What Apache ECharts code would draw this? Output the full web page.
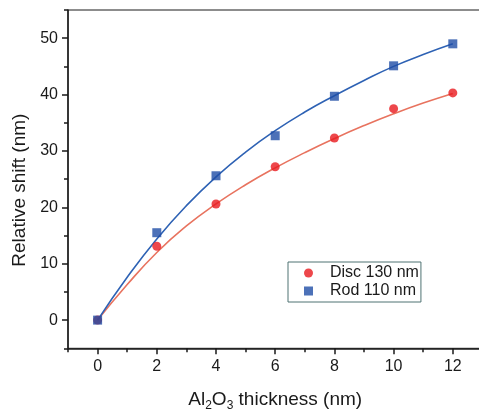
<!DOCTYPE html>
<html>
<head>
<meta charset="utf-8">
<script src="https://cdn.jsdelivr.net/npm/echarts@6/dist/echarts.min.js"></script>
<style>
  html, body { margin: 0; padding: 0; background: #fff; }
  #main { width: 479px; height: 409px; }
</style>
</head>
<body>
<div id="main"></div>
<script>
// measured points
var thickness = [0, 2, 4, 6, 8, 10, 12]
var discShift = [0, 13.1, 20.6, 27.2, 32.3, 37.5, 40.3]
var rodShift = [0, 15.5, 25.6, 32.7, 39.7, 45.1, 49.0]

// fitted curves at each nm
var fitX = [0, 1, 2, 3, 4, 5, 6, 7, 8, 9, 10, 11, 12]
var discFit = [0, 6.3, 12.0, 16.7, 20.6, 24.0, 27.0, 29.7, 32.2, 34.5, 36.6, 38.5, 40.2]
var rodFit = [0, 7.6, 14.4, 20.3, 25.4, 29.8, 33.6, 36.9, 39.8, 42.5, 45.0, 47.1, 49.0]

var xMajor = [0, 2, 4, 6, 8, 10, 12]
var xMinor = [-1, 1, 3, 5, 7, 9, 11, 13]
var yMajor = [0, 10, 20, 30, 40, 50]
var yMinor = [-5, 5, 15, 25, 35, 45, 55]

function pairs (xs, ys) {
  return xs.map(function (x, i) { return [x, ys[i]] })
}

var font = 'Liberation Sans, Arial, sans-serif'
var axisColor = '#1a1a1a'
var tickStyle = { color: axisColor, width: 1.5 }

// one axis for line + labels, one for long ticks, one for short ticks
function xAxes () {
  return [{
    type: 'value', min: -1, max: 13, interval: 1,
    name: 'Al{s|2}O{s|3} thickness (nm)',
    nameLocation: 'middle', nameGap: 40,
    nameTextStyle: {
      fontFamily: font, fontSize: 19, color: '#1a1a1a',
      rich: { s: { fontFamily: font, fontSize: 12, color: '#1a1a1a', padding: [11, 0, 0, 0] } }
    },
    axisLine: { onZero: false, lineStyle: tickStyle },
    axisTick: { show: false },
    axisLabel: {
      margin: 10, fontFamily: font, fontSize: 16, color: '#1a1a1a',
      formatter: function (v) { return xMajor.indexOf(v) >= 0 ? String(v) : '' }
    },
    splitLine: { show: false }
  }, {
    type: 'value', min: -1, max: 13, interval: 1, position: 'bottom',
    axisLine: { show: false, onZero: false },
    axisTick: { show: true, customValues: xMajor, length: 6, lineStyle: tickStyle },
    axisLabel: { show: false },
    splitLine: { show: false }
  }, {
    type: 'value', min: -1, max: 13, interval: 1, position: 'bottom',
    axisLine: { show: false, onZero: false },
    axisTick: { show: true, customValues: xMinor, length: 4, lineStyle: tickStyle },
    axisLabel: { show: false },
    splitLine: { show: false }
  }]
}

function yAxes () {
  return [{
    type: 'value', min: -5, max: 55, interval: 5,
    name: 'Relative shift (nm)',
    nameLocation: 'middle', nameGap: 39,
    nameTextStyle: { fontFamily: font, fontSize: 19, color: '#1a1a1a', padding: [0, 22, 0, 0] },
    axisLine: { show: true, onZero: false, lineStyle: tickStyle },
    axisTick: { show: false },
    axisLabel: {
      margin: 10, fontFamily: font, fontSize: 16, color: '#1a1a1a',
      formatter: function (v) { return yMajor.indexOf(v) >= 0 ? String(v) : '' }
    },
    splitLine: { show: false }
  }, {
    type: 'value', min: -5, max: 55, interval: 5, position: 'left',
    axisLine: { show: false, onZero: false },
    axisTick: { show: true, customValues: yMajor, length: 6, lineStyle: tickStyle },
    axisLabel: { show: false },
    splitLine: { show: false }
  }, {
    type: 'value', min: -5, max: 55, interval: 5, position: 'left',
    axisLine: { show: false, onZero: false },
    axisTick: { show: true, customValues: yMinor, length: 4, lineStyle: tickStyle },
    axisLabel: { show: false },
    splitLine: { show: false }
  }]
}

var chart = echarts.init(document.getElementById('main'))
chart.setOption({
  animation: false,
  grid: {
    left: 68, top: 10, right: -3.4, bottom: 60.7,
    outerBoundsMode: 'none',
    show: true, borderColor: axisColor, borderWidth: 1
  },
  legend: {
    orient: 'vertical',
    left: 288, top: 262,
    data: [
      { name: 'Disc 130 nm', icon: 'circle' },
      { name: 'Rod 110 nm', icon: 'rect' }
    ],
    itemWidth: 9, itemHeight: 9, itemGap: 2,
    padding: [3, 2, 3, 16],
    borderColor: '#4f7373', borderWidth: 1,
    textStyle: { fontFamily: font, fontSize: 16, color: '#1a1a1a', padding: [0, 0, 0, 12] }
  },
  xAxis: xAxes(),
  yAxis: yAxes(),
  series: [
    {
      name: 'Disc fit', type: 'line', smooth: true, symbol: 'none',
      data: pairs(fitX, discFit),
      lineStyle: { color: '#e8735f', width: 1.6 }, z: 2
    },
    {
      name: 'Rod fit', type: 'line', smooth: true, symbol: 'none',
      data: pairs(fitX, rodFit),
      lineStyle: { color: '#2e62b4', width: 1.6 }, z: 2
    },
    {
      name: 'Disc 130 nm', type: 'scatter', symbol: 'circle', symbolSize: 9,
      data: pairs(thickness, discShift),
      itemStyle: { color: '#e8191e' }, z: 3
    },
    {
      name: 'Rod 110 nm', type: 'scatter', symbol: 'rect', symbolSize: 9,
      data: pairs(thickness, rodShift),
      itemStyle: { color: '#1f4ea6' }, z: 4
    }
  ]
})
</script>
</body>
</html>
